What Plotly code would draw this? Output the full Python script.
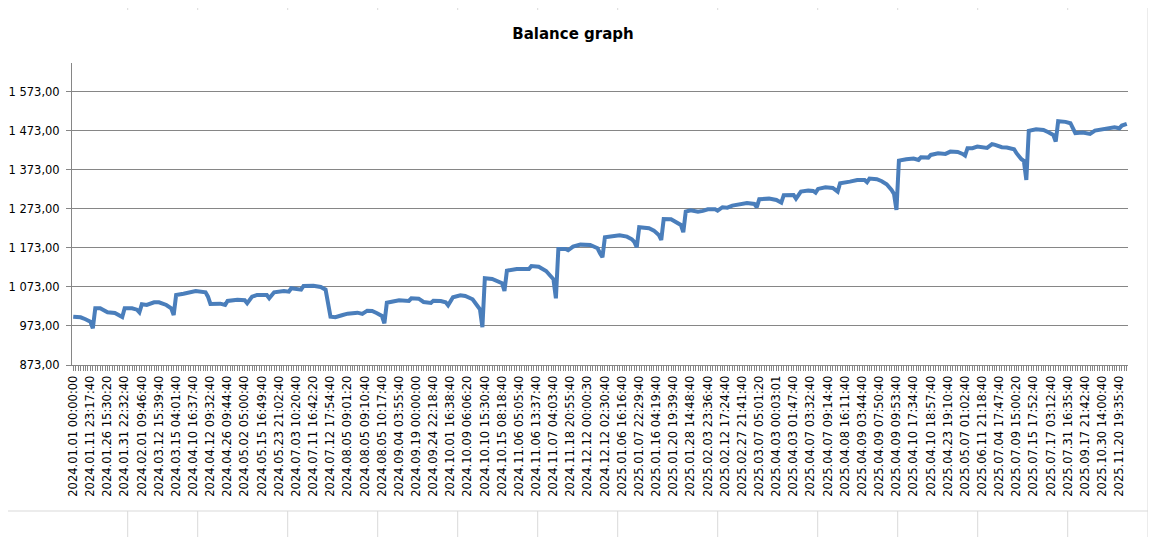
import plotly.graph_objects as go

# category labels shown on the x axis (one every 7 points)
tick_labels = [
    "2024.01.01 00:00:00", "2024.01.11 23:17:40", "2024.01.26 15:30:20", "2024.01.31 22:32:40",
    "2024.02.01 09:46:40", "2024.03.12 15:39:40", "2024.03.15 04:01:40", "2024.04.10 16:37:40",
    "2024.04.12 09:32:40", "2024.04.26 09:44:40", "2024.05.02 05:00:40", "2024.05.15 16:49:40",
    "2024.05.23 21:02:40", "2024.07.03 10:20:40", "2024.07.11 16:42:20", "2024.07.12 17:54:40",
    "2024.08.05 09:01:20", "2024.08.05 09:10:40", "2024.08.05 10:17:40", "2024.09.04 03:55:40",
    "2024.09.19 00:00:00", "2024.09.24 22:18:40", "2024.10.01 16:38:40", "2024.10.09 06:06:20",
    "2024.10.10 15:30:40", "2024.10.15 08:18:40", "2024.11.06 05:05:40", "2024.11.06 13:37:40",
    "2024.11.07 04:03:40", "2024.11.18 20:55:40", "2024.12.12 00:00:30", "2024.12.12 02:30:40",
    "2025.01.06 16:16:40", "2025.01.07 22:29:40", "2025.01.16 04:19:40", "2025.01.20 19:39:40",
    "2025.01.28 14:48:40", "2025.02.03 23:36:40", "2025.02.12 17:24:40", "2025.02.27 21:41:40",
    "2025.03.07 05:01:20", "2025.04.03 00:03:01", "2025.04.03 01:47:40", "2025.04.07 03:32:40",
    "2025.04.07 09:14:40", "2025.04.08 16:11:40", "2025.04.09 03:44:40", "2025.04.09 07:50:40",
    "2025.04.09 09:53:40", "2025.04.10 17:34:40", "2025.04.10 18:57:40", "2025.04.23 19:10:40",
    "2025.05.07 01:02:40", "2025.06.11 21:18:40", "2025.07.04 17:47:40", "2025.07.09 15:00:20",
    "2025.07.15 17:52:40", "2025.07.17 03:12:40", "2025.07.31 16:35:40", "2025.09.17 21:42:40",
    "2025.10.30 14:00:40", "2025.11.20 19:35:40",
]
label_step = 7
n_points = 431

# deal number (position on the category axis) and balance
point_idx = [
    0, 3, 5, 7, 8, 9, 11, 14, 17, 19, 20, 21, 24, 26, 27, 28, 30, 33, 35, 38,
    40, 41, 42, 45, 48, 50, 54, 55, 56, 58, 60, 62, 63, 67, 70, 71, 73, 75, 79, 80,
    82, 86, 88, 89, 92, 93, 94, 98, 101, 103, 105, 107, 110, 112, 116, 117, 118, 120, 122, 124,
    126, 127, 128, 131, 133, 137, 138, 141, 143, 146, 147, 150, 152, 153, 155, 158, 160, 163, 165, 166,
    167, 168, 171, 174, 175, 176, 177, 181, 185, 186, 187, 190, 193, 195, 196, 197, 198, 201, 202, 204,
    207, 211, 214, 215, 216, 217, 220, 223, 226, 228, 229, 230, 231, 235, 237, 239, 240, 241, 244, 246,
    248, 249, 250, 252, 255, 257, 259, 262, 263, 265, 267, 269, 272, 275, 278, 279, 280, 284, 287, 289,
    290, 294, 295, 297, 300, 302, 303, 304, 307, 310, 312, 313, 317, 320, 323, 324, 325, 328, 330, 332,
    334, 335, 336, 337, 340, 343, 345, 346, 349, 350, 353, 356, 358, 361, 363, 364, 365, 367, 369, 372,
    373, 375, 376, 379, 381, 384, 385, 387, 388, 389, 390, 393, 396, 398, 400, 401, 402, 405, 407, 408,
    409, 412, 414, 415, 417, 419, 422, 425, 427, 428, 430,
]
balance = [
    996.8, 995.3, 990.2, 984.0, 967.1, 1018.4, 1018.4, 1008.1, 1006.3, 1001.2,
    996.1, 1018.4, 1018.4, 1014.8, 1008.1, 1028.6, 1026.8, 1033.8, 1033.8, 1026.8,
    1018.4, 1001.2, 1052.5, 1055.8, 1060.2, 1062.7, 1059.4, 1048.1, 1029.4, 1029.4,
    1030.2, 1026.8, 1037.1, 1040.4, 1038.9, 1031.2, 1048.1, 1052.5, 1052.5, 1044.0,
    1059.4, 1062.7, 1060.9, 1069.7, 1068.6, 1066.1, 1075.6, 1076.3, 1073.0, 1066.1,
    996.8, 995.3, 1001.2, 1004.5, 1007.1, 1005.6, 1003.8, 1012.2, 1011.5, 1005.6,
    998.6, 979.9, 1032.7, 1036.3, 1038.9, 1037.1, 1044.0, 1043.0, 1034.5, 1032.0,
    1037.9, 1037.1, 1033.8, 1026.1, 1046.6, 1051.7, 1049.9, 1041.5, 1022.5, 1015.8,
    969.7, 1095.3, 1093.5, 1086.6, 1082.5, 1062.7, 1114.8, 1119.1, 1119.9, 1119.1,
    1126.8, 1125.0, 1114.0, 1099.4, 1092.7, 1044.0, 1170.4, 1170.4, 1167.1, 1176.3,
    1181.5, 1180.7, 1172.2, 1159.4, 1149.1, 1200.4, 1203.8, 1205.6, 1202.0, 1195.3,
    1188.4, 1174.8, 1226.1, 1223.5, 1217.4, 1206.3, 1193.5, 1247.3, 1246.6, 1240.4,
    1232.0, 1213.3, 1266.1, 1269.7, 1266.1, 1267.9, 1272.2, 1272.2, 1268.6, 1277.4,
    1276.3, 1281.4, 1285.8, 1288.4, 1285.8, 1277.4, 1297.9, 1299.4, 1296.1, 1289.1,
    1308.1, 1308.9, 1299.4, 1317.3, 1319.9, 1319.1, 1314.8, 1324.3, 1328.6, 1326.8,
    1317.3, 1338.9, 1343.0, 1347.3, 1347.3, 1341.4, 1350.7, 1349.1, 1344.0, 1336.3,
    1321.7, 1311.4, 1270.4, 1396.8, 1400.4, 1402.0, 1398.6, 1405.5, 1404.5, 1411.4,
    1415.8, 1414.0, 1419.9, 1419.1, 1414.0, 1409.7, 1428.6, 1428.6, 1432.7, 1431.9,
    1429.4, 1438.9, 1437.9, 1431.2, 1430.2, 1426.1, 1415.8, 1400.4, 1396.1, 1347.3,
    1473.0, 1477.3, 1475.5, 1469.6, 1462.7, 1445.5, 1497.9, 1496.1, 1492.7, 1479.9,
    1467.1, 1468.6, 1467.8, 1465.3, 1473.8, 1475.5, 1479.9, 1482.5, 1479.9, 1486.6,
    1490.9,
]

# the page body has an 8px margin, so the figure is drawn a bit smaller
OFF = 8
W, H = 1156 - OFF, 537 - OFF
L, R, T, B = 64, 28, 55, 172
grey = "#868686"
cell = "#d9d9d9"
font = "DejaVu Sans"

fig = go.Figure()
fig.add_trace(go.Scatter(
    x=point_idx, y=balance,
    mode="lines",
    line=dict(color="#4a7ebb", width=4),
    hoverinfo="y",
))


# spreadsheet cell lines around the chart object (window pixel -> paper coords)
def px(x):
    return (x - OFF - L) / (W - L - R)


def py(y):
    return (H - B - (y - OFF)) / (H - T - B)


shapes = []
cols = [127.7, 197.7, 287.7, 377.7, 457.7, 537.7, 617.7, 717.7, 817.7, 897.7, 977.7, 1067.7]
for c in cols:
    shapes.append(dict(type="line", xref="paper", yref="paper",
                       x0=px(c), x1=px(c), y0=py(OFF), y1=py(10),
                       line=dict(color=cell, width=1)))
    shapes.append(dict(type="line", xref="paper", yref="paper",
                       x0=px(c), x1=px(c), y0=py(511), y1=py(537),
                       line=dict(color=cell, width=1)))
shapes.append(dict(type="line", xref="paper", yref="paper",
                   x0=px(OFF), x1=px(1148), y0=py(511), y1=py(511),
                   line=dict(color=cell, width=1)))
shapes.append(dict(type="line", xref="paper", yref="paper",
                   x0=px(1148), x1=px(1148), y0=py(OFF), y1=py(537),
                   line=dict(color=cell, width=1)))
for r in range(10, 537, 25):
    shapes.append(dict(type="line", xref="paper", yref="paper",
                       x0=px(1148), x1=px(1156), y0=py(r), y1=py(r),
                       line=dict(color=cell, width=1)))

fig.update_layout(
    width=W, height=H,
    margin=dict(l=L, r=R, t=T, b=B),
    paper_bgcolor="white",
    plot_bgcolor="white",
    separators=", ",
    showlegend=False,
    font=dict(family=font, size=11.5, color="black"),
    title=dict(
        text="<b>Balance graph</b>",
        font=dict(family=font, size=15, color="black"),
        x=(573 - OFF) / W, xref="container", xanchor="center",
        y=1 - (34 - OFF) / H, yref="container", yanchor="middle",
    ),
    xaxis=dict(
        range=[-0.5, n_points - 0.5],
        automargin=False,
        tickmode="array",
        tickvals=[i * label_step for i in range(len(tick_labels))],
        ticktext=tick_labels,
        tickangle=-90,
        showgrid=False, zeroline=False,
        showline=True, linecolor=grey, linewidth=1,
        ticks="outside", ticklen=5, tickcolor=grey,
        minor=dict(ticks="outside", ticklen=5, tickcolor=grey, tickmode="linear",
                   tick0=0, dtick=1, showgrid=False),
    ),
    yaxis=dict(
        range=[873, 1647],
        automargin=False,
        tick0=873, dtick=100,
        tickformat=",.2f",
        ticklabelstandoff=4,
        showgrid=True, gridcolor=grey, gridwidth=1,
        zeroline=False,
        showline=True, linecolor=grey, linewidth=1,
        ticks="outside", ticklen=5, tickcolor=grey,
    ),
    shapes=shapes,
)

fig.write_html("out.html")
